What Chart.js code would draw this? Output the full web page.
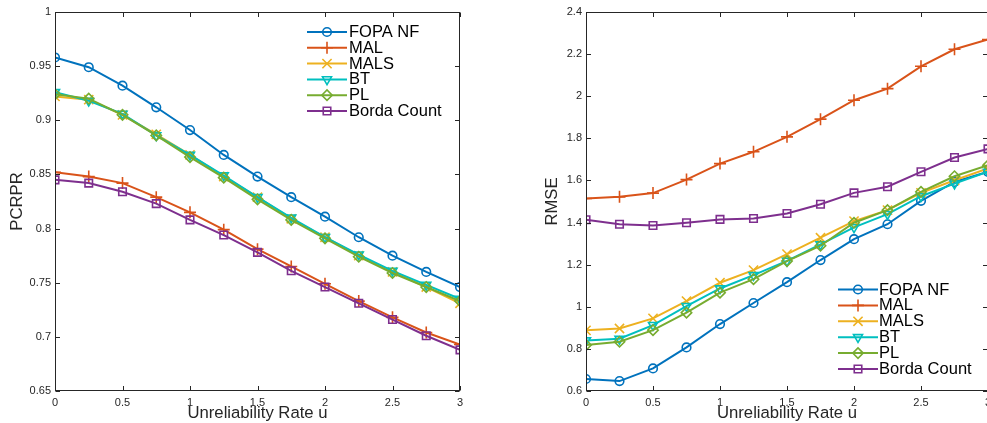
<!DOCTYPE html>
<html>
<head>
<meta charset="utf-8">
<script src="https://cdn.jsdelivr.net/npm/chart.js@4.4.1/dist/chart.umd.min.js"></script>
<style>
  html, body { margin: 0; padding: 0; background: #fff; overflow: hidden; width: 987px; height: 423px; }
  #pcrprChart { position: absolute; left: 0; top: 0; }
  #rmseChart { position: absolute; left: 520px; top: 0; }
</style>
</head>
<body>
<canvas id="pcrprChart" width="480" height="423"></canvas>
<canvas id="rmseChart" width="480" height="423"></canvas>
<script>
// данные
const rates = [0, 0.25, 0.5, 0.75, 1, 1.25, 1.5, 1.75, 2, 2.25, 2.5, 2.75, 3];
const xTicks = [0, 0.5, 1, 1.5, 2, 2.5, 3];
const pcrprTicks = [0.65, 0.7, 0.75, 0.8, 0.85, 0.9, 0.95, 1];
const rmseTicks = [0.6, 0.8, 1, 1.2, 1.4, 1.6, 1.8, 2, 2.2, 2.4];
const seriesNames = ["FOPA NF", "MAL", "MALS", "BT", "PL", "Borda Count"];

const pcrprFopa = [0.958, 0.949, 0.932, 0.912, 0.891, 0.868, 0.848, 0.829, 0.811, 0.792, 0.775, 0.760, 0.746];
const pcrprMal = [0.852, 0.848, 0.842, 0.829, 0.815, 0.799, 0.781, 0.765, 0.749, 0.733, 0.718, 0.704, 0.693];
const pcrprMals = [0.922, 0.919, 0.905, 0.887, 0.868, 0.848, 0.829, 0.809, 0.792, 0.775, 0.760, 0.746, 0.731];
const pcrprBt = [0.926, 0.918, 0.906, 0.886, 0.868, 0.849, 0.829, 0.810, 0.792, 0.776, 0.761, 0.748, 0.735];
const pcrprPl = [0.924, 0.920, 0.905, 0.886, 0.866, 0.847, 0.827, 0.808, 0.791, 0.774, 0.759, 0.746, 0.733];
const pcrprBorda = [0.845, 0.842, 0.834, 0.823, 0.808, 0.794, 0.778, 0.761, 0.746, 0.731, 0.716, 0.701, 0.688];

const rmseFopa = [0.657, 0.647, 0.707, 0.807, 0.918, 1.018, 1.117, 1.222, 1.321, 1.392, 1.503, 1.593, 1.641];
const rmseMal = [1.514, 1.522, 1.540, 1.604, 1.680, 1.736, 1.807, 1.891, 1.981, 2.036, 2.142, 2.223, 2.269];
const rmseMals = [0.888, 0.897, 0.945, 1.027, 1.114, 1.174, 1.250, 1.328, 1.407, 1.459, 1.541, 1.601, 1.657];
const rmseBt = [0.840, 0.848, 0.913, 1.003, 1.087, 1.150, 1.218, 1.296, 1.377, 1.440, 1.525, 1.585, 1.641];
const rmsePl = [0.818, 0.834, 0.889, 0.972, 1.067, 1.131, 1.217, 1.290, 1.399, 1.459, 1.546, 1.620, 1.672];
const rmseBorda = [1.413, 1.392, 1.386, 1.399, 1.415, 1.419, 1.443, 1.487, 1.541, 1.570, 1.641, 1.709, 1.750];

// стиль серий (как в MATLAB)
const seriesColors = ["#0072BD", "#D95319", "#EDB120", "#00BFBF", "#77AC30", "#7E2F8E"];
const markerStyles = ["circle", "cross", "crossRot", "triangle", "rectRot", "rect"];
const markerRotation = [0, 0, 0, 180, 0, 0];
const markerRadius = [4.3, 6, 6.5, 5.2, 5.2, 5.3];

const FONT = "'Liberation Sans', Arial, Helvetica, sans-serif";
const AXIS_COLOR = "#262626";

function buildDatasets(seriesList) {
  return seriesList.map((values, i) => ({
    label: seriesNames[i],
    data: values.map((v, k) => ({ x: rates[k], y: v })),
    borderColor: seriesColors[i],
    backgroundColor: "rgba(0,0,0,0)",
    borderWidth: 2,
    pointStyle: markerStyles[i],
    rotation: markerRotation[i],
    pointRadius: markerRadius[i],
    pointBorderWidth: 1.6,
    pointBorderColor: seriesColors[i],
    pointBackgroundColor: "rgba(0,0,0,0)",
    tension: 0,
    order: seriesList.length - i,
  }));
}

// рамка и внутренние засечки
const framePlugin = {
  id: "matlabFrame",
  afterDatasetsDraw(chart) {
    const { ctx, chartArea: a, scales } = chart;
    ctx.save();
    ctx.strokeStyle = AXIS_COLOR;
    ctx.lineWidth = 1;
    const L = Math.round(a.left) + 0.5, R = Math.round(a.right) - 0.5;
    const T = Math.round(a.top) + 0.5, B = Math.round(a.bottom) - 0.5;
    ctx.strokeRect(L, T, R - L, B - T);
    const len = 4.5;
    ctx.beginPath();
    scales.x.ticks.forEach((t) => {
      const px = Math.round(scales.x.getPixelForValue(t.value)) + 0.5;
      ctx.moveTo(px, B); ctx.lineTo(px, B - len);
      ctx.moveTo(px, T); ctx.lineTo(px, T + len);
    });
    scales.y.ticks.forEach((t) => {
      const py = Math.round(scales.y.getPixelForValue(t.value)) + 0.5;
      ctx.moveTo(L, py); ctx.lineTo(L + len, py);
      ctx.moveTo(R, py); ctx.lineTo(R - len, py);
    });
    ctx.stroke();
    ctx.restore();
  },
};

// легенда без рамки внутри области графика
const legendPlugin = {
  id: "matlabLegend",
  afterDraw(chart, args, opts) {
    const { ctx } = chart;
    ctx.save();
    chart.data.datasets.forEach((ds, i) => {
      const y = opts.y0 + i * opts.dy;
      ctx.strokeStyle = ds.borderColor;
      ctx.lineWidth = ds.borderWidth;
      ctx.beginPath();
      ctx.moveTo(opts.x0, y);
      ctx.lineTo(opts.x1, y);
      ctx.stroke();
      ctx.fillStyle = "rgba(0,0,0,0)";
      ctx.lineWidth = ds.pointBorderWidth;
      Chart.helpers.drawPoint(ctx, {
        pointStyle: ds.pointStyle,
        rotation: ds.rotation,
        radius: ds.pointRadius,
        borderWidth: ds.pointBorderWidth,
      }, (opts.x0 + opts.x1) / 2, y);
      ctx.fillStyle = "#000";
      ctx.font = "16.5px " + FONT;
      ctx.textAlign = "left";
      ctx.textBaseline = "middle";
      ctx.fillText(ds.label, opts.textX, y + 0.5);
    });
    ctx.restore();
  },
};

function fmt(v) {
  return String(Math.round(v * 100) / 100);
}

function makeChart(canvasId, seriesList, yTicks, yTitle, yTitlePad, yWidth, padRight, legend) {
  const ctx = document.getElementById(canvasId).getContext("2d");
  return new Chart(ctx, {
    type: "line",
    data: { datasets: buildDatasets(seriesList) },
    plugins: [framePlugin, legendPlugin],
    options: {
      responsive: false,
      animation: false,
      events: [],
      layout: { padding: { top: 12, right: padRight, bottom: 0, left: 0 } },
      plugins: {
        legend: { display: false },
        tooltip: { enabled: false },
        matlabLegend: legend,
      },
      scales: {
        x: {
          type: "linear",
          min: 0,
          max: 3,
          afterBuildTicks: (s) => { s.ticks = xTicks.map((v) => ({ value: v })); },
          afterFit: (s) => { s.height = 32; },
          grid: { display: false, drawTicks: false },
          border: { display: false },
          ticks: {
            callback: fmt,
            autoSkip: false,
            maxRotation: 0,
            padding: 5,
            color: AXIS_COLOR,
            font: { family: FONT, size: 11 },
          },
          title: {
            display: true,
            text: "Unreliability Rate u",
            color: AXIS_COLOR,
            font: { family: FONT, size: 16.7 },
            padding: { top: 0, bottom: 0 },
          },
        },
        y: {
          type: "linear",
          min: yTicks[0],
          max: yTicks[yTicks.length - 1],
          afterBuildTicks: (s) => { s.ticks = yTicks.map((v) => ({ value: v })); },
          afterFit: (s) => { s.width = yWidth; },
          grid: { display: false, drawTicks: false },
          border: { display: false },
          ticks: {
            callback: fmt,
            autoSkip: false,
            padding: 4,
            color: AXIS_COLOR,
            font: { family: FONT, size: 11 },
          },
          title: {
            display: true,
            text: yTitle,
            color: AXIS_COLOR,
            font: { family: FONT, size: 16.7 },
            padding: { top: yTitlePad, bottom: 0 },
          },
        },
      },
    },
  });
}

makeChart(
  "pcrprChart",
  [pcrprFopa, pcrprMal, pcrprMals, pcrprBt, pcrprPl, pcrprBorda],
  pcrprTicks, "PCRPR", 7, 55, 20,
  { x0: 307, x1: 347, textX: 349, y0: 32, dy: 15.8 }
);

makeChart(
  "rmseChart",
  [rmseFopa, rmseMal, rmseMals, rmseBt, rmsePl, rmseBorda],
  rmseTicks, "RMSE", 22, 66, 12,
  { x0: 318, x1: 358, textX: 359, y0: 289.5, dy: 15.9 }
);
</script>
</body>
</html>
